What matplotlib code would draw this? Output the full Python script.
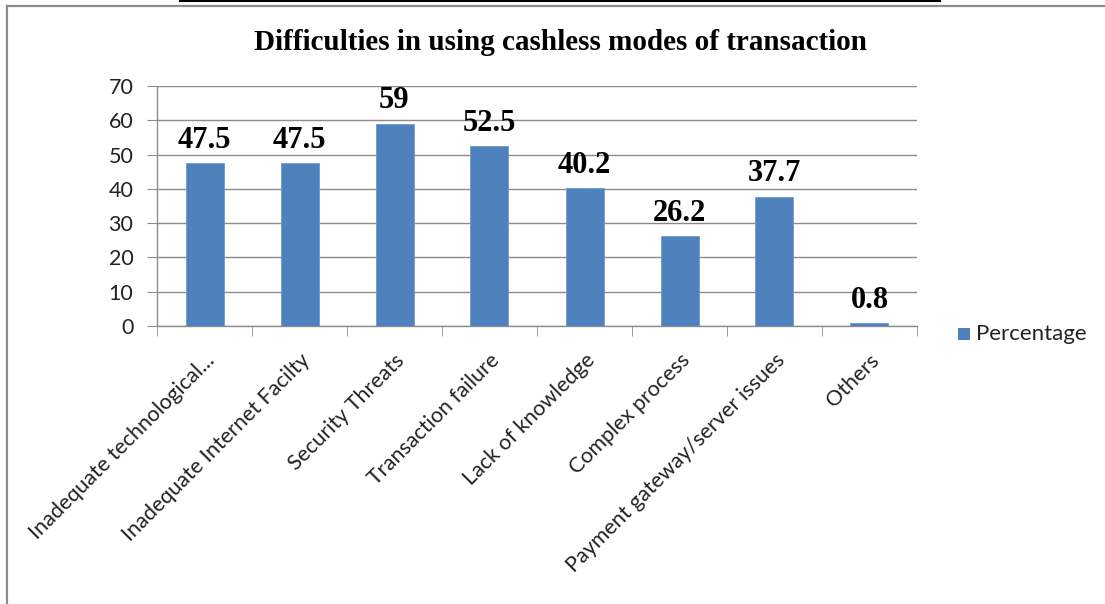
import matplotlib
matplotlib.use("Agg")
import matplotlib.pyplot as plt
import numpy as np
from matplotlib.lines import Line2D
from matplotlib.patches import Rectangle

categories = ["Inadequate technological...", "Inadequate Internet Facilty", "Security Threats",
              "Transaction failure", "Lack of knowledge", "Complex process",
              "Payment gateway/server issues", "Others"]
values = [47.5, 47.5, 59, 52.5, 40.2, 26.2, 37.7, 0.8]
value_labels = ["47.5", "47.5", "59", "52.5", "40.2", "26.2", "37.7", "0.8"]
yticks = [0, 10, 20, 30, 40, 50, 60, 70]
series_name = "Percentage"
title = "Difficulties in using cashless modes of transaction"

W, H = 1105, 604
fig = plt.figure(figsize=(W / 100, H / 100), dpi=100)

# frame and top line
fig.add_artist(Line2D([7 / W, 7 / W], [0, 1 - 6 / H], transform=fig.transFigure, color="#8c8c8c", lw=1.6))
fig.add_artist(Line2D([7 / W, 1], [1 - 6 / H, 1 - 6 / H], transform=fig.transFigure, color="#8c8c8c", lw=1.6))
fig.add_artist(Line2D([180 / W, 940 / W], [1 - 0.5 / H, 1 - 0.5 / H], transform=fig.transFigure, color="black", lw=1.5))

left, right, top, bottom = 157, 917, 86, 326
ax = fig.add_axes([left / W, 1 - bottom / H, (right - left) / W, (bottom - top) / H])

bar_color = "#4f81bd"
x = list(range(len(categories)))
ax.bar(x, values, width=0.4, color=bar_color, edgecolor="#6f9ad0", linewidth=0.6, zorder=3,
       label=series_name)
ax.set_xlim(-0.5, len(categories) - 0.5)
ax.set_ylim(0, 70)
ax.set_yticks(yticks)
ax.set_yticklabels([str(v) for v in yticks], fontsize=15.5, family="Lato", color="#222222")
ax.grid(axis="y", color="#8c8c8c", linewidth=1.0, zorder=0)
ax.set_axisbelow(True)
for s in ["top", "right"]:
    ax.spines[s].set_visible(False)
for s in ["left", "bottom"]:
    ax.spines[s].set_color("#8c8c8c")
    ax.spines[s].set_linewidth(1.0)
ax.tick_params(axis="y", length=7, color="#8c8c8c", pad=10)
ax.tick_params(axis="x", length=0)

# category boundary ticks on the x-axis
bounds = np.arange(-0.5, len(categories) + 0.5, 1)
ax.set_xticks(bounds, minor=True)
ax.tick_params(axis="x", which="minor", length=7, color="#8c8c8c", direction="out")
ax.set_xticks(x)
ax.set_xticklabels(categories, rotation=45, ha="right", rotation_mode="anchor",
                   fontsize=15.5, family="Lato", color="#222222")
for lbl in ax.get_xticklabels():
    lbl.set_y(-0.08)

for xi, v, lab in zip(x, values, value_labels):
    ax.annotate(lab, (xi, v), xytext=(0, 6), textcoords="offset points", ha="center", va="bottom",
                fontsize=22, fontweight="bold", family="Liberation Serif", zorder=5)

fig.text(560 / W, 1 - 42 / H, title, ha="center", va="center", fontsize=21, fontweight="bold",
         family="Liberation Serif")

# legend
fig.add_artist(Rectangle((958 / W, 1 - 340 / H), 12 / W, 12 / H, transform=fig.transFigure,
                         facecolor=bar_color, edgecolor="none"))
fig.text(976 / W, 1 - 334 / H, series_name, ha="left", va="center", fontsize=16, family="Lato",
         color="#222222")

fig.savefig("out.png", dpi=100)
